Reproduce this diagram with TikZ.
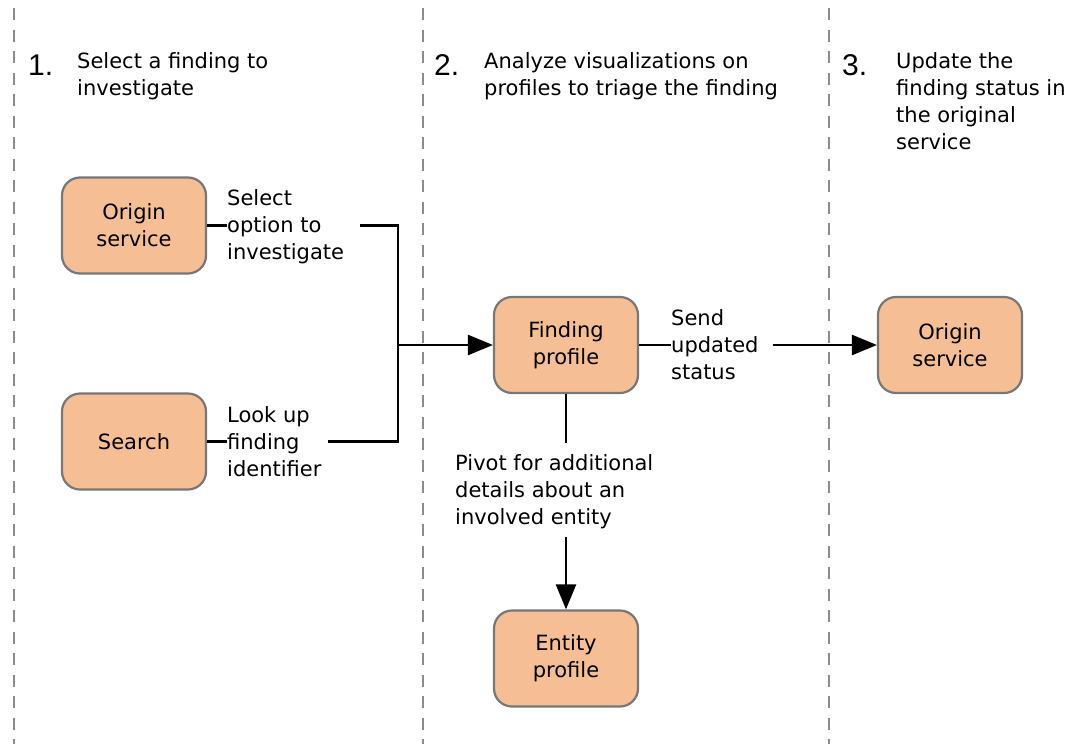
\documentclass[tikz,border=0pt]{standalone}
\usepackage{fontspec}
\setmainfont{DejaVu Sans}
\newfontfamily\numfont{Liberation Sans}
\usetikzlibrary{arrows.meta,calc}
\definecolor{boxfill}{HTML}{F5BE94}
\definecolor{boxline}{HTML}{777777}
\definecolor{lanegray}{HTML}{8C8C8C}
\begin{document}
\begin{tikzpicture}[x=1pt,y=-1pt,
  txt/.style={font=\fontsize{21}{27}\selectfont, inner sep=0pt},
  lbl/.style={txt, align=left, anchor=north west},
  box/.style={txt, align=center, draw=boxline, fill=boxfill, line width=2.2pt, rounded corners=18pt, minimum width=144pt, minimum height=96pt},
  num/.style={font=\numfont\fontsize{30}{32}\selectfont, inner sep=0pt, anchor=base west},
  lane/.style={draw=lanegray, line width=2pt, dash pattern=on 12pt off 9.5pt},
  conn/.style={draw=black, line width=2.5pt},
  arr/.style={conn, -{Triangle[length=25pt,width=20pt]}}]
\useasboundingbox (0,0) rectangle (1091,744);
% lanes
\draw[lane] (14,8) -- (14,744);
\draw[lane] (423,8) -- (423,744);
\draw[lane] (829,8) -- (829,744);
% headings
\node[num] (n1) at (28,75) {1.};
\node[num] (n2) at (434,75) {2.};
\node[num] (n3) at (842,75) {3.};
\node[lbl] (h1) at (77,52) {Select a finding to\\investigate};
\node[lbl] (h2) at (484,52) {Analyze visualizations on\\profiles to triage the finding};
\node[lbl] (h3) at (896,52) {Update the\\finding status in\\the original\\service};
% boxes
\node[box] (os1) at (134,225.5) {Origin\\service};
\node[box] (se) at (134,441.5) {Search};
\node[box] (fp) at (566,345) {Finding\\profile};
\node[box] (os2) at (950,345) {Origin\\service};
\node[box] (ep) at (566,658.5) {Entity\\profile};
% labels
\node[lbl] (l1) at (227,189) {Select\\option to\\investigate};
\node[lbl] (l2) at (227,406) {Look up\\finding\\identifier};
\node[lbl] (l3) at (671,309) {Send\\updated\\status};
\node[lbl] (l4) at (455,454) {Pivot for additional\\details about an\\involved entity};
\coordinate (j) at (398,345);
% connectors
\draw[conn] (os1.east) -- (os1.east -| l1.west);
\draw[conn] ($(os1.east -| l1.east)+(16,0)$) -| (j);
\draw[conn] (se.east) -- (se.east -| l2.west);
\draw[conn] ($(se.east -| l2.east)+(6,0)$) -| (j);
\draw[arr] (j) -- (fp.west);
\draw[conn] (fp.east) -- (fp.east -| l3.west);
\draw[arr] ($(fp.east -| l3.east)+(14,0)$) -- (os2.west);
\draw[conn] (fp.south) -- ($(fp.south |- l4.north)+(0,-11)$);
\draw[arr] ($(fp.south |- l4.south)+(0,8)$) -- (ep.north);
\end{tikzpicture}
\end{document}
